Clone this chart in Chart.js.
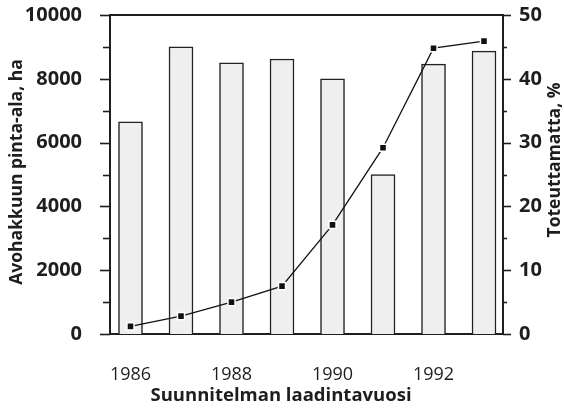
<!DOCTYPE html>
<html>
<head>
<meta charset="utf-8">
<script src="https://cdn.jsdelivr.net/npm/chart.js@4"></script>
<style>
  body { margin: 0; background: #fff; }
  canvas { display: block; }
</style>
</head>
<body>
<canvas id="kaavio" width="564" height="409"></canvas>
<script>
// Data luettu kuvasta
const vuodet = [1986, 1987, 1988, 1989, 1990, 1991, 1992, 1993];
const avohakkuuAla = [6650, 9000, 8500, 8620, 8000, 5000, 8460, 8870]; // ha
const toteuttamatta = [1.2, 2.8, 5.0, 7.5, 17.1, 29.2, 44.8, 45.9]; // %
const xTikit = [1986, 1988, 1990, 1992];

const tekstiVari = '#1e1e1e';
const fontti = '"Open Sans", "DejaVu Sans", sans-serif';

// Akselien pikku- ja päätikit sekä otsikot piirretään itse
const kehysPlugin = {
    id: 'kehys',
    afterDatasetsDraw(chart) {
        const { ctx, chartArea, scales } = chart;
        const y = scales.y, y1 = scales.y1;
        ctx.save();
        ctx.strokeStyle = tekstiVari;
        ctx.lineWidth = 2;
        ctx.beginPath();
        ctx.moveTo(chartArea.left, chartArea.top);
        ctx.lineTo(chartArea.right, chartArea.top);
        ctx.stroke();

        ctx.lineWidth = 1.6;
        for (let v = 0; v <= 10000; v += 1000) {
            const py = Math.round(y.getPixelForValue(v)) + 0.5;
            const pituus = v % 2000 === 0 ? 10 : 7;
            ctx.beginPath();
            ctx.moveTo(chartArea.left - pituus, py);
            ctx.lineTo(chartArea.left, py);
            ctx.stroke();
        }
        for (let v = 0; v <= 50; v += 5) {
            const py = Math.round(y1.getPixelForValue(v)) + 0.5;
            const pituus = v % 10 === 0 ? 8 : 4;
            ctx.beginPath();
            ctx.moveTo(chartArea.right, py);
            ctx.lineTo(chartArea.right + pituus, py);
            ctx.stroke();
        }

        ctx.fillStyle = tekstiVari;
        ctx.textAlign = 'center';
        ctx.textBaseline = 'middle';
        ctx.font = 'bold 18.5px ' + fontti;
        ctx.fillText('Suunnitelman laadintavuosi', 281, 396);

        ctx.font = 'bold 17.5px ' + fontti;
        ctx.save();
        ctx.translate(17, 172);
        ctx.rotate(-Math.PI / 2);
        ctx.fillText('Avohakkuun pinta-ala, ha', 0, 0);
        ctx.restore();

        ctx.save();
        ctx.translate(555, 160);
        ctx.rotate(-Math.PI / 2);
        ctx.fillText('Toteuttamatta, %', 0, 0);
        ctx.restore();
        ctx.restore();
    }
};

function pystyLeveys(leveys) {
    return s => {
        s.width = leveys;
        s.paddingTop = 0;
        s.paddingBottom = 0;
    };
}

new Chart(document.getElementById('kaavio'), {
    data: {
        datasets: [
            {
                type: 'line',
                data: vuodet.map((v, i) => ({ x: v, y: toteuttamatta[i] })),
                yAxisID: 'y1',
                borderColor: '#111',
                borderWidth: 1.3,
                pointStyle: 'rect',
                pointRadius: 5,
                pointBackgroundColor: '#111',
                pointBorderColor: '#fff',
                pointBorderWidth: 1.5,
                tension: 0,
                order: 0
            },
            {
                type: 'bar',
                data: vuodet.map((v, i) => ({ x: v, y: avohakkuuAla[i] })),
                yAxisID: 'y',
                backgroundColor: '#efefef',
                borderColor: '#222',
                borderWidth: 1.5,
                barThickness: 24,
                order: 1
            }
        ]
    },
    options: {
        responsive: false,
        animation: false,
        layout: { padding: { top: 15, left: 0, right: 0, bottom: 0 } },
        plugins: {
            legend: { display: false },
            tooltip: { enabled: false }
        },
        scales: {
            x: {
                type: 'linear',
                offset: false,
                min: 1985.594,
                max: 1993.376,
                afterFit: s => { s.height = 75; s.paddingLeft = 0; s.paddingRight = 0; },
                afterBuildTicks: s => { s.ticks = xTikit.map(v => ({ value: v })); },
                grid: { display: false, drawTicks: false },
                border: { display: true, color: tekstiVari, width: 2 },
                ticks: {
                    padding: 30,
                    color: tekstiVari,
                    font: { family: fontti, size: 18 },
                    maxRotation: 0,
                    callback: v => String(v)
                }
            },
            y: {
                position: 'left',
                min: 0,
                max: 10000,
                afterFit: pystyLeveys(110),
                grid: { display: false, drawTicks: false },
                border: { display: true, color: tekstiVari, width: 2 },
                ticks: {
                    stepSize: 2000,
                    padding: 28,
                    color: tekstiVari,
                    font: { family: fontti, size: 20, weight: 'bold' },
                    callback: v => String(v)
                }
            },
            y1: {
                position: 'right',
                min: 0,
                max: 50,
                afterFit: pystyLeveys(61),
                grid: { display: false, drawTicks: false },
                border: { display: true, color: tekstiVari, width: 2 },
                ticks: {
                    stepSize: 10,
                    padding: 16,
                    color: tekstiVari,
                    font: { family: fontti, size: 20, weight: 'bold' },
                    callback: v => String(v)
                }
            }
        }
    },
    plugins: [kehysPlugin]
});
</script>
</body>
</html>
